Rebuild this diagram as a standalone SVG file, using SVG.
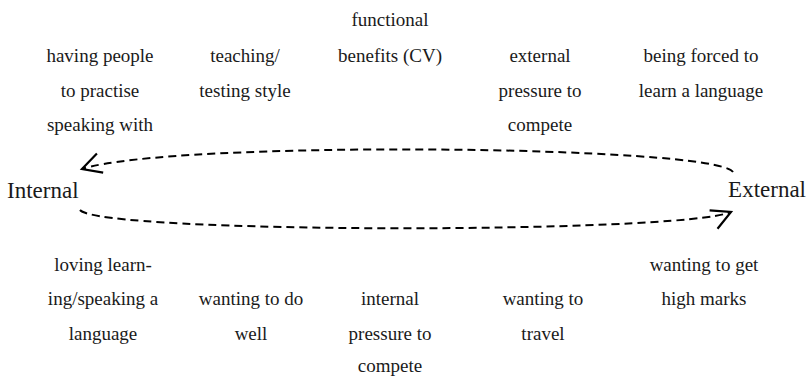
<svg xmlns="http://www.w3.org/2000/svg" width="810" height="376" viewBox="0 0 810 376" font-family="'Liberation Serif', 'Times New Roman', 'DejaVu Serif', 'Noto Serif', serif">
<style>
text{font-family:'Liberation Serif','Times New Roman','DejaVu Serif','Noto Serif',serif;fill:#1a1a1a;}
.lbl{font-size:19px;text-anchor:middle;}
.end{font-size:23px;}
.con{fill:none;stroke:#000;stroke-width:2;stroke-dasharray:8 5;}
</style>
<defs>
<marker id="arr" markerUnits="userSpaceOnUse" viewBox="-22 -12 26 24" markerWidth="26" markerHeight="24" refX="0" refY="0" orient="auto" overflow="visible">
<path d="M -19 -10 L 0 0 L -19 10" fill="none" stroke="#000" stroke-width="2.2" stroke-dasharray="none"/>
</marker>
</defs>
<rect width="810" height="376" fill="#fff"/>
<g id="connectors">
<path class="con" d="M 733 172 C 715 145, 170 140, 82 169" marker-end="url(#arr)"/>
<path class="con" d="M 80 210 C 100 234, 680 234, 731 212" marker-end="url(#arr)"/>
</g>
<g id="internal"><text class="end" x="7" y="198">Internal</text></g>
<g id="external"><text class="end" x="806" y="197" text-anchor="end">External</text></g>
<g id="having-people"><text class="lbl" x="100" y="62">having people</text><text class="lbl" x="100" y="97">to practise</text><text class="lbl" x="100" y="131">speaking with</text></g>
<g id="teaching"><text class="lbl" x="245" y="62">teaching/</text><text class="lbl" x="245" y="97">testing style</text></g>
<g id="functional"><text class="lbl" x="390" y="26">functional</text><text class="lbl" x="390" y="62">benefits (CV)</text></g>
<g id="external-pressure"><text class="lbl" x="540" y="62">external</text><text class="lbl" x="540" y="97">pressure to</text><text class="lbl" x="540" y="131">compete</text></g>
<g id="being-forced"><text class="lbl" x="701" y="62">being forced to</text><text class="lbl" x="701" y="97">learn a language</text></g>
<g id="loving"><text class="lbl" x="103" y="271">loving learn-</text><text class="lbl" x="103" y="305">ing/speaking a</text><text class="lbl" x="103" y="340">language</text></g>
<g id="wanting-well"><text class="lbl" x="251" y="305">wanting to do</text><text class="lbl" x="251" y="340">well</text></g>
<g id="internal-pressure"><text class="lbl" x="390" y="305">internal</text><text class="lbl" x="390" y="340">pressure to</text><text class="lbl" x="390" y="372">compete</text></g>
<g id="travel"><text class="lbl" x="543" y="305">wanting to</text><text class="lbl" x="543" y="340">travel</text></g>
<g id="high-marks"><text class="lbl" x="704" y="271">wanting to get</text><text class="lbl" x="704" y="305">high marks</text></g>
</svg>
